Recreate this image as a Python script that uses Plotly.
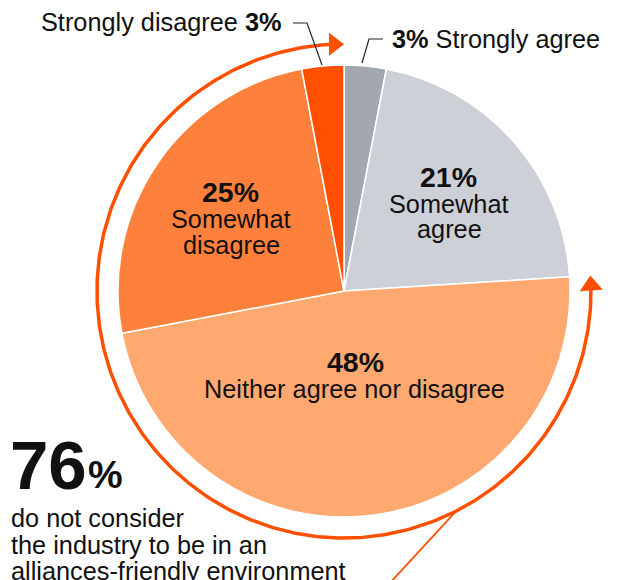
import numpy as np
import plotly.graph_objects as go

# ---- data ----
categories = ["Strongly agree", "Somewhat agree", "Neither agree nor disagree",
              "Somewhat disagree", "Strongly disagree"]
values = [3, 21, 48, 25, 3]
colors = ["#A2A7B0", "#CDD1D7", "#FFA970", "#FE803D", "#FE5000"]
highlight_total = 76
highlight_text = ["do not consider", "the industry to be in an", "alliances-friendly environment"]

W, H = 619, 580
CX, CY, R = 344, 291, 226       # pie centre / radius in pixels
RA = 247                        # outer arc radius
ORANGE = "#FE5000"
FONT = "Liberation Sans, Arial, Helvetica, sans-serif"

fig = go.Figure()

fig.add_trace(go.Pie(
    labels=categories, values=values, sort=False, direction="clockwise", rotation=0,
    marker=dict(colors=colors, line=dict(color="white", width=1.5)),
    textinfo="none", hoverinfo="skip", showlegend=False,
    domain=dict(x=[(CX - R) / W, (CX + R) / W], y=[(H - CY - R) / H, (H - CY + R) / H]),
))

# ---- outer arc covering the "not agree" share (from end of agree slices to the top) ----
total = sum(values)
start_frac = (values[0] + values[1]) / total     # 0.24
end_frac = 1.0
def pt(frac, r=RA):
    a = 2 * np.pi * frac
    return CX + r * np.sin(a), CY - r * np.cos(a)

off = 11 / (2 * np.pi * RA)
fr = np.linspace(start_frac + off, end_frac - off, 300)
ax, ay = pt(fr)
fig.add_trace(go.Scatter(x=ax, y=ay, mode="lines", line=dict(color=ORANGE, width=3.5),
                         hoverinfo="skip", showlegend=False))

# arrowheads
s = 20
back = (s / 2) / (2 * np.pi * RA)
x1, y1 = pt(start_frac + back)
x2, y2 = pt(end_frac - back)
fig.add_trace(go.Scatter(
    x=[x1, x2], y=[y1, y2], mode="markers",
    marker=dict(symbol="triangle-up", size=s, color=ORANGE,
                angle=[start_frac * 360 - 90, end_frac * 360 + 90], line=dict(width=0)),
    hoverinfo="skip", showlegend=False))

# connector line to the 76% text
cx0, cy0 = pt(0.425)
fig.add_shape(type="line", x0=cx0, y0=cy0, x1=cx0 - 70, y1=cy0 + 76,
              line=dict(color=ORANGE, width=1.8), layer="above")

# leader lines for the small slices
fig.add_shape(type="path", path="M 293,23 L 307,23 L 322,65",
              line=dict(color="#222", width=1.2), layer="above")
fig.add_shape(type="path", path="M 362,63 L 369,39 L 383,39",
              line=dict(color="#222", width=1.2), layer="above")

def ann(text, x, y, size, xanchor="center", bold=False):
    if bold:
        text = f"<b>{text}</b>"
    fig.add_annotation(text=text, x=x, y=y, xref="x", yref="y", showarrow=False,
                       xanchor=xanchor, yanchor="middle",
                       font=dict(family=FONT, size=size, color="#111"))

FS = 25.3
FB = 28.5
ann(f"{categories[4]} <b>{values[4]}%</b>", 283, 22, FS, xanchor="right")
ann(f"<b>{values[0]}%</b> {categories[0]}", 390, 39, FS, xanchor="left")

ann(f"{values[1]}%", 448, 177, FB, bold=True)
ann("Somewhat", 449, 204, FS)
ann("agree", 449, 229, FS)

ann(f"{values[3]}%", 230, 192, FB, bold=True)
ann("Somewhat", 231, 219, FS)
ann("disagree", 231, 245, FS)

ann(f"{values[2]}%", 355, 362, FB, bold=True)
ann(categories[2], 354, 389, FS)

ann(f"{highlight_total}", 8, 465, 69, xanchor="left", bold=True)
ann("%", 86, 474, 39, xanchor="left", bold=True)
for i, line in enumerate(highlight_text):
    ann(line, 9, 518 + 26.5 * i, FS, xanchor="left")

fig.update_layout(
    width=W, height=H, autosize=False, margin=dict(l=0, r=0, t=0, b=0),
    paper_bgcolor="white", plot_bgcolor="rgba(0,0,0,0)",
    xaxis=dict(range=[0, W], visible=False, fixedrange=True),
    yaxis=dict(range=[H, 0], visible=False, fixedrange=True),
    showlegend=False,
)
fig.write_html("out.html")
